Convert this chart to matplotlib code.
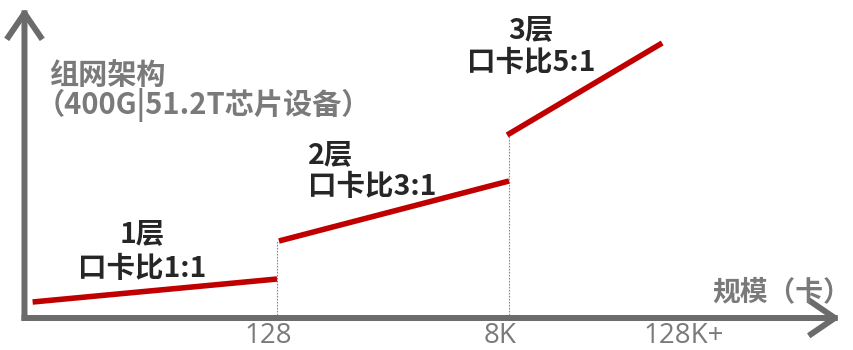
import matplotlib
matplotlib.use("Agg")
import matplotlib.pyplot as plt
import matplotlib.transforms as mtransforms

plt.rcParams['font.family'] = ['Noto Sans CJK SC', 'DejaVu Sans']

# ---- data (x = log2 of card count, y = relative network complexity) ----
seg1_x = [0.68, 7.0]
seg1_y = [1.6, 3.9]
seg2_x = [7.05, 13.0]
seg2_y = [7.7, 13.7]
seg3_x = [12.95, 16.96]
seg3_y = [18.3, 27.5]

tick_pos = [7, 13, 17.75]
tick_labels = ["128", "8K", "128K+"]

tier_titles = ["1层", "2层", "3层"]
tier_ratios = ["口卡比1:1", "口卡比3:1", "口卡比5:1"]

y_title = ["组网架构", "（400G|51.2T芯片设备）"]
x_title = "规模（卡）"

RED = "#c00000"
AXIS = "#6b6b6b"
GRAY_TXT = "#7a7a7a"
DARK = "#262626"

fig = plt.figure(figsize=(8.54, 3.5), dpi=100)
ax = fig.add_axes([0, 0, 1, 1])
ax.set_xlim(-0.163, 21.92)
ax.set_ylim(-3.2, 31.8)
for s in ax.spines.values():
    s.set_visible(False)
ax.set_yticks([])

# axes with arrows
x0, y0 = 0.47, 0.0
arrow_kw = dict(arrowstyle="->,head_length=0.85,head_width=0.58", color=AXIS,
                lw=4.3, shrinkA=0, shrinkB=0, mutation_scale=20, capstyle='projecting')
ax.annotate("", xy=(x0, 31.0), xytext=(x0, y0), arrowprops=arrow_kw)
ax.annotate("", xy=(21.56, y0), xytext=(x0, y0), arrowprops=arrow_kw)

# dotted guides at the boundaries
ax.plot([seg2_x[0] - 0.05, seg2_x[0] - 0.05], [0, seg2_y[0]], color="#8a8a8a", lw=0.8,
        ls=(0, (1.5, 1.2)), zorder=1)
ax.plot([seg2_x[1], seg2_x[1]], [0, seg3_y[0]], color="#8a8a8a", lw=0.8,
        ls=(0, (1.5, 1.2)), zorder=1)

# red segments
for xs, ys in [(seg1_x, seg1_y), (seg2_x, seg2_y), (seg3_x, seg3_y)]:
    ax.plot(xs, ys, color=RED, lw=4.0, solid_capstyle='butt', zorder=3)

# x tick labels
ax.set_xticks(tick_pos)
ax.set_xticklabels(tick_labels, family=['Open Sans', 'Noto Sans CJK SC'])
ax.tick_params(axis='x', length=0, pad=-20, labelsize=20, labelcolor=GRAY_TXT)
off = mtransforms.ScaledTranslation(-9 / 100, 0, fig.dpi_scale_trans)
for lab in ax.get_xticklabels():
    lab.set_transform(lab.get_transform() + off)

# tier annotations
fs = 20.5
ax.text(3.51, 8.4, tier_titles[0], ha='center', va='center', fontsize=fs, fontweight='bold', color=DARK)
ax.text(3.51, 4.9, tier_ratios[0], ha='center', va='center', fontsize=fs, fontweight='bold', color=DARK)
ax.text(7.8, 16.3, tier_titles[1], ha='left', va='center', fontsize=fs, fontweight='bold', color=DARK)
ax.text(7.8, 13.05, tier_ratios[1], ha='left', va='center', fontsize=fs, fontweight='bold', color=DARK)
ax.text(13.57, 28.8, tier_titles[2], ha='center', va='center', fontsize=fs, fontweight='bold', color=DARK)
ax.text(13.57, 25.55, tier_ratios[2], ha='center', va='center', fontsize=fs, fontweight='bold', color=DARK)

# axis titles
ax.text(1.1, 24.3, y_title[0], ha='left', va='center', fontsize=21, fontweight='bold', color=GRAY_TXT)
ax.text(0.75, 21.3, y_title[1], ha='left', va='center', fontsize=21, fontweight='bold', color=GRAY_TXT)
ax.text(18.25, 2.6, x_title, ha='left', va='center', fontsize=20, fontweight='bold', color=GRAY_TXT)

fig.savefig("out.png", dpi=100)
